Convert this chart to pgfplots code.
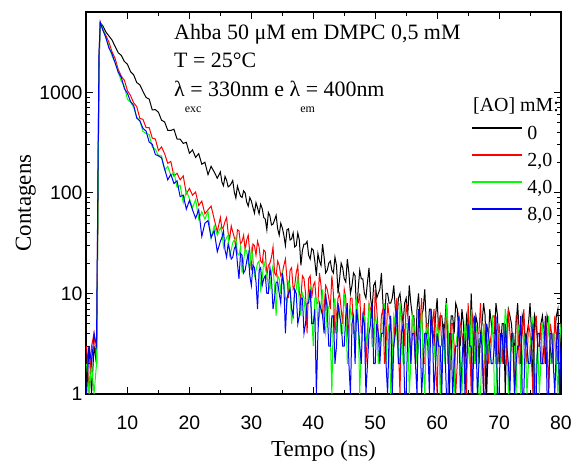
\documentclass[border=0pt]{standalone}
\usepackage{pgfplots}
\pgfplotsset{compat=1.18}
\usepackage{pgfplotstable}
\usepackage{fontspec}
\setmainfont{Liberation Serif}
\newfontfamily\sansf{Liberation Sans}
\definecolor{pgreen}{RGB}{0,255,0}
\definecolor{pred}{RGB}{255,0,0}

\pgfplotstableread{
x b r g u
3.4 2 3 2 1
3.8 3 1 1 3
4.2 1 3 2 2
4.6 3 4 1 4
5.0 2 2 2 3
5.2 40 70 50 90
5.4 1800 2300 2100 2400
5.6 4900 5000 4950 5000
6.0 4612 4233 4390 4194
6.5 3997 3703 3455 3538
7.0 3649 3162 2905 2766
7.5 3321 2540 2303 2425
8.0 2863 2175 2003 1963
8.5 2479 1695 1603 1590
9.0 2339 1449 1293 1415
9.5 2033 1319 1149 1091
10.0 1901 1039 852 977
10.5 1605 929 799 810
11.0 1494 786 710 745
11.5 1252 721 568 554
12.0 1189 550 519 522
12.5 1023 540 410 439
13.0 891 446 391 413
13.5 859 447 382 321
14.0 670 351 285 305
14.5 674 344 272 241
15.0 635 264 235 234
15.5 529 287 234 223
16.0 508 245 169 173
16.5 420 197 184 135
17.0 419 206 149 153
17.5 430 147 160 124
18.0 344 157 114 132
18.5 343 135 119 92
19.0 311 148 80 95
19.5 319 98 104 69
20.0 248 111 88 84
20.5 268 95 71 68
21.0 226 102 86 56
21.5 246 75 55 68
22.0 193 83 65 37
22.5 202 62 55 50
23.0 152 68 65 53
23.5 184 74 35 36
24.0 162 55 47 42
24.5 140 41 38 26
25.0 162 57 45 33
25.25 128 44 41 36
25.5 118 46 29 42
25.75 146 52 33 27
26.0 134 57 36 23
26.25 115 40 38 31
26.5 118 35 24 27
26.75 124 47 27 22
27.0 133 41 32 23
27.25 102 36 34 28
27.5 89 28 36 30
27.75 117 43 25 20
28.0 104 42 24 14
28.25 93 31 29 25
28.5 90 33 16 24
28.75 105 38 21 16
29.0 100 27 28 17
29.25 81 34 26 21
29.5 74 38 20 25
29.75 90 25 18 15
30.0 83 17 28 12
30.25 72 31 23 19
30.5 63 30 15 18
30.75 80 24 17 13
31.0 71 33 20 7
31.25 62 29 21 17
31.5 77 21 11 18
31.75 70 20 14 12
32.0 57 27 21 14
32.25 55 26 18 15
32.5 43 15 15 10
32.75 64 19 12 10
33.0 59 20 11 18
33.25 48 23 16 14
33.5 49 29 19 7
33.75 54 16 11 9
34.0 60 15 6 13
34.25 44 21 15 13
34.5 38 19 14 10
34.75 50 15 10 8
35.0 45 16 16 16
35.25 38 19 13 12
35.5 30 22 9 4
35.75 43 14 8 9
36.0 44 9 13 10
36.25 34 17 12 11
36.5 35 18 5 7
36.75 40 11 7 6
37.0 29 12 10 11
37.25 30 16 11 10
37.5 40 19 15 5
37.75 34 10 8 6
38.0 19 9 6 9
38.25 27 15 10 9
38.5 31 14 9 4
38.75 31 10 6 5
39.0 33 4 7 8
39.25 24 14 9 8
39.5 22 15 12 11
39.75 28 9 6 5
40.0 27 12 3 5
40.25 21 13 9 7
40.5 15 8 9 1
40.75 25 8 5 4
41.0 21 16 6 8
41.25 19 12 8 7
41.5 31 6 11 6
41.75 23 7 5 4
42.0 16 12 4 10
42.25 17 11 8 7
42.5 20 9 7 3
42.75 21 7 4 3
43.0 17 15 1 6
43.25 16 10 7 6
43.5 23 4 9 2
43.75 19 6 4 3
44.0 10 9 6 8
44.25 14 10 7 6
44.5 20 7 4 5
44.75 18 5 4 3
45.0 14 11 10 3
45.25 13 9 7 6
45.5 22 4 2 8
45.75 16 5 3 2
46.0 10 9 7 1
46.25 12 9 6 5
46.5 16 4 5 6
46.75 15 4 3 2
47.0 6 8 9 7
47.25 11 8 6 5
47.5 17 10 1 3
47.75 14 4 3 2
48.0 14 5 6 6
48.25 10 8 6 5
48.5 9 2 4 1
48.75 13 4 3 2
49.0 18 8 8 4
49.25 9 7 6 5
49.5 7 6 3 8
49.75 12 3 3 2
50.0 13 11 6 2
50.25 9 7 5 5
50.5 10 4 2 4
50.75 11 3 3 2
51.0 16 6 5 4
51.25 8 7 5 4
51.5 5 2 8 7
51.75 10 3 2 2
52.0 10 8 4 1
52.25 8 6 5 4
52.5 8 5 1 6
52.75 9 3 2 1
53.0 12 3 6 3
53.25 7 6 5 4
53.5 5 9 4 7
53.75 9 3 2 2
54.0 10 1 8 2
54.25 7 6 5 4
54.5 5 6 2 5
54.75 8 3 2 1
55.0 9 8 5 1
55.25 6 6 5 4
55.5 12 4 1 6
55.75 8 2 2 2
56.0 6 6 6 4
56.25 6 5 5 4
56.5 2 2 4 2
56.75 7 3 2 1
57.0 10 5 3 7
57.25 5 5 4 4
57.5 6 9 7 1
57.75 7 2 2 2
58.0 11 2 1 4
58.25 5 5 4 4
58.5 4 5 5 3
58.75 7 3 2 1
59.0 7 4 6 7
59.25 5 5 4 4
59.5 3 7 3 1
59.75 6 2 2 2
60.0 9 1 5 4
60.25 4 5 4 3
60.5 6 6 1 3
60.75 6 3 2 1
61.0 4 3 4 5
61.25 5 4 2 3
61.5 9 7 8 1
61.75 3 2 5 1
62.0 1 2 2 4
62.25 6 5 3 4
62.5 6 5 4 1
62.75 4 3 1 2
63.0 8 1 3 3
63.25 7 2 4 3
63.5 4 6 6 6
63.75 3 5 2 1
64.0 7 4 1 2
64.25 5 3 3 4
64.5 2 2 5 1
64.75 6 1 4 2
65.0 5 8 3 5
65.25 3 4 2 3
65.5 10 1 7 3
65.75 4 6 3 1
66.0 3 5 2 6
66.25 6 2 5 4
66.5 5 4 4 1
66.75 2 4 1 2
67.0 4 8 1 4
67.25 5 3 3 3
67.5 8 1 5 1
67.75 6 5 2 1
68.0 1 4 4 5
68.25 3 2 4 4
68.5 7 3 2 3
68.75 5 4 3 2
69.0 4 6 6 2
69.25 4 6 1 3
69.5 8 2 1 6
69.75 6 2 4 1
70.0 2 5 4 1
70.25 3 3 2 4
70.5 5 2 3 4
70.75 5 5 3 2
71.0 1 4 7 5
71.25 4 2 5 3
71.5 7 7 1 2
71.75 6 4 2 1
72.0 5 3 4 4
72.25 3 3 3 4
72.5 3 1 3 1
72.75 5 6 1 2
73.0 8 6 5 3
73.25 4 2 4 3
73.5 2 3 1 6
73.75 6 4 2 1
74.0 5 7 4 1
74.25 3 3 3 4
74.5 4 2 1 3
74.75 5 5 2 2
75.0 8 4 3 2
75.25 4 2 4 3
75.5 1 1 6 5
75.75 6 4 1 1
76.0 5 6 2 1
76.25 3 3 3 4
76.5 3 3 1 4
76.75 5 5 2 2
77.0 6 2 5 2
77.25 4 2 4 3
77.5 2 6 3 6
77.75 6 3 3 1
78.0 5 1 6 1
78.25 3 5 2 4
78.5 2 4 2 4
78.75 4 2 4 2
79.0 4 6 4 1
79.25 6 4 2 3
79.5 7 2 1 5
79.75 3 3 3 1
80.0 3 5 5 3
}\decay

\begin{document}
\begin{tikzpicture}
\useasboundingbox (-86bp,-70bp) rectangle (485bp,394bp);
\begin{axis}[
  at={(0,0)}, anchor=south west,
  scale only axis, width=475bp, height=382bp,
  ymode=log, xmin=3.3, xmax=80, ymin=1, ymax=6310,
  xtick={10,20,30,40,50,60,70,80},
  xticklabels={10,20,30,40,50,60,70,80},
  minor x tick num=1,
  ytick={1,10,100,1000}, yticklabels={1,10,100,1000},
  tick label style={font=\fontsize{19.5}{20}\selectfont\sansf},
  xticklabel style={anchor=base, yshift=-35bp},
  major tick length=7bp, minor tick length=4bp,
  axis line style={line width=1.2bp},
  every tick/.style={black, line width=1bp},
  xlabel={Tempo (ns)}, ylabel={Contagens},
  label style={font=\fontsize{23}{24}\selectfont},
  xlabel style={at={(axis description cs:0.5,0)}, anchor=base, yshift=-62bp},
  ylabel style={at={(axis description cs:-0.1158,0.5)}, anchor=base},
  legend style={draw=none, fill=none, at={(axis description cs:0.8105,0.572)}, anchor=west,
    inner sep=0pt, row sep=9bp, column sep=5bp,
    font=\fontsize{20}{20}\selectfont,
    nodes={inner sep=0pt, text height=14bp, text depth=4bp}},
  legend cell align=left,
  legend image code/.code={\draw[#1, line width=1.3bp] (0bp,7bp) -- (50bp,7bp);},
]
\addplot[black, line width=1bp] table[x=x, y=b] {\decay};
\addlegendentry{0}
\addplot[pred, line width=1bp] table[x=x, y=r] {\decay};
\addlegendentry{2,0}
\addplot[pgreen, line width=1bp] table[x=x, y=g] {\decay};
\addlegendentry{4,0}
\addplot[blue, line width=1bp] table[x=x, y=u] {\decay};
\addlegendentry{8,0}
\end{axis}
\node[anchor=base west, inner sep=0pt, font=\fontsize{22}{22}\selectfont] at (88bp,354bp) {Ahba 50 μM em DMPC 0,5 mM};
\node[anchor=base west, inner sep=0pt, font=\fontsize{22}{22}\selectfont] at (88bp,326bp) {T = 25°C};
\node[anchor=base west, inner sep=0pt, font=\fontsize{22}{22}\selectfont] at (88bp,297bp) {λ\rlap{\raisebox{-16bp}{\fontsize{12}{12}\selectfont exc}} = 330nm e λ\rlap{\raisebox{-16bp}{\fontsize{12}{12}\selectfont em}} = 400nm};
\node[anchor=base west, inner sep=0pt, font=\fontsize{20}{20}\selectfont] at (387bp,282bp) {[AO] mM:};
\end{tikzpicture}
\end{document}
